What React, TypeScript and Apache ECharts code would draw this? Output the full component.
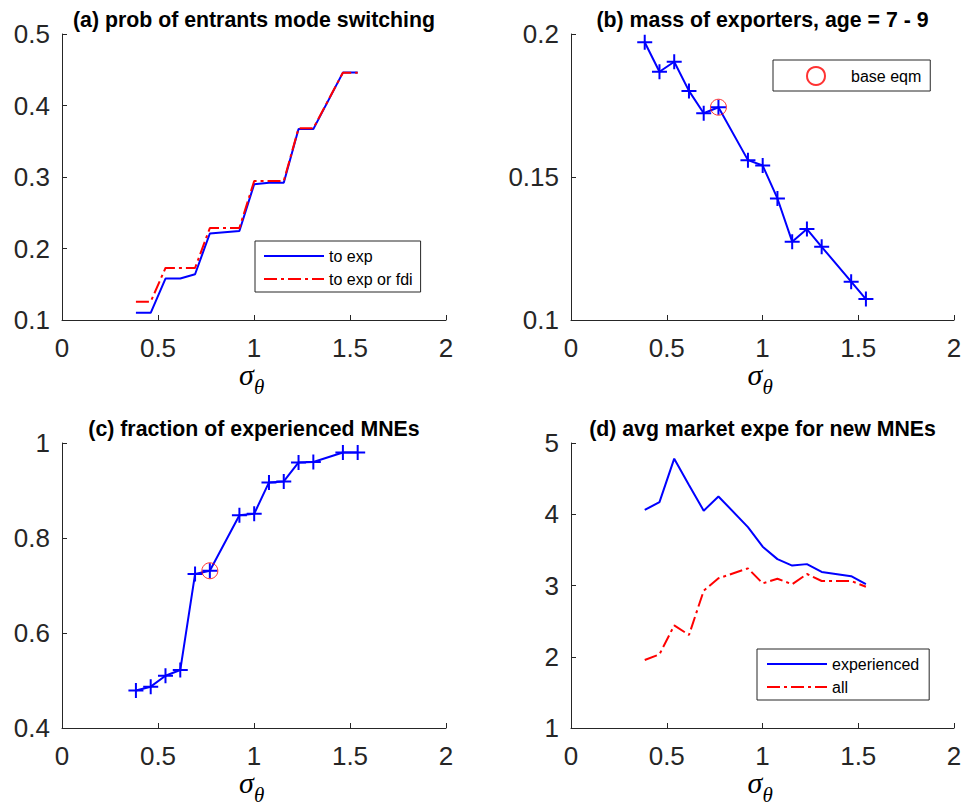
import React, { useEffect, useRef } from "react";
import * as echarts from "echarts";

// sigma_theta grid
const sigma = [0.385, 0.462, 0.539, 0.616, 0.693, 0.77, 0.924, 1.001, 1.078, 1.155, 1.232, 1.309, 1.463, 1.54];
// (a) prob of entrants mode switching
const toExp = [0.110, 0.110, 0.158, 0.158, 0.164, 0.221, 0.2245, 0.290, 0.292, 0.292, 0.367, 0.367, 0.446, 0.446];
const toExpOrFdi = [0.1256, 0.1256, 0.1727, 0.1727, 0.1727, 0.2287, 0.2287, 0.2944, 0.2944, 0.2944, 0.3681, 0.3681, 0.4459, 0.4459];
// (b) mass of exporters, age 7-9
const massExporters = [0.1971, 0.1868, 0.1903, 0.1801, 0.1723, 0.1744, 0.1559, 0.154, 0.1425, 0.1274, 0.1318, 0.1256, 0.1134, 0.1073];
// (c) fraction of experienced MNEs
const fracExperienced = [0.479, 0.487, 0.51, 0.522, 0.724, 0.731, 0.848, 0.851, 0.917, 0.919, 0.959, 0.96, 0.98, 0.98];
// (d) avg market expe for new MNEs
const expeExperienced = [4.06, 4.17, 4.78, 4.41, 4.05, 4.25, 3.82, 3.545, 3.37, 3.28, 3.3, 3.19, 3.13, 3.02];
const expeAll = [1.954, 2.034, 2.441, 2.305, 2.927, 3.101, 3.241, 3.03, 3.095, 3.017, 3.161, 3.063, 3.063, 2.983];
// base equilibrium index
const baseIndex = 5;

const xTicks = { min: 0, max: 2, interval: 0.5 };
const yRanges = [
  { min: 0.1, max: 0.5, interval: 0.1 },
  { min: 0.1, max: 0.2, interval: 0.05 },
  { min: 0.4, max: 1, interval: 0.2 },
  { min: 1, max: 5, interval: 1 },
];
const titles = [
  "(a) prob of entrants mode switching",
  "(b) mass of exporters, age = 7 - 9",
  "(c) fraction of experienced MNEs",
  "(d) avg market expe for new MNEs",
];

const AXIS = "#262626";
const BLUE = "#0000FF";
const RED = "#FF0000";
const SANS = "'Liberation Sans', Arial, sans-serif";
const SERIF = "'Liberation Serif', 'Times New Roman', serif";

const grids = [
  { left: 62, top: 34, width: 384, height: 286 },
  { left: 571, top: 34, width: 383, height: 286 },
  { left: 62, top: 443, width: 384, height: 285 },
  { left: 571, top: 443, width: 383, height: 285 },
];

const PLUS = "path://M6.5,0 H8.5 V6.5 H15 V8.5 H8.5 V15 H6.5 V8.5 H0 V6.5 H6.5 Z";
const DASHDOT = [13, 4, 3, 4];

const pairs = (ys: number[]) => sigma.map((x, i) => [x, ys[i]]);

export default function App() {
  const ref = useRef<HTMLDivElement>(null);
  useEffect(() => {
    if (!ref.current) return;
    const chart = echarts.init(ref.current, undefined, { renderer: "svg" });

    const xAxis = grids.map((_, i) => ({
      type: "value",
      gridIndex: i,
      ...xTicks,
      axisLine: { show: true, onZero: false, lineStyle: { color: AXIS, width: 1 } },
      axisTick: { show: true, inside: true, length: 5, lineStyle: { color: AXIS, width: 1 } },
      splitLine: { show: false },
      axisLabel: { fontSize: 26, color: AXIS, fontFamily: SANS, margin: 15 },
    }));
    const yAxis = grids.map((_, i) => ({
      type: "value",
      gridIndex: i,
      ...yRanges[i],
      axisLine: { show: true, onZero: false, lineStyle: { color: AXIS, width: 1 } },
      axisTick: { show: true, inside: true, length: 5, lineStyle: { color: AXIS, width: 1 } },
      splitLine: { show: false },
      axisLabel: { fontSize: 26, color: AXIS, fontFamily: SANS, margin: 12 },
    }));

    const baseStyle = {
      type: "scatter",
      name: "base eqm",
      symbol: "circle",
      symbolSize: 16,
      itemStyle: { color: "rgba(0,0,0,0)", borderColor: RED, borderWidth: 1 },
      z: 5,
    };

    const series: any[] = [
      {
        type: "line", name: "to exp", xAxisIndex: 0, yAxisIndex: 0,
        data: pairs(toExp), showSymbol: false, symbol: "none",
        lineStyle: { color: BLUE, width: 2 }, itemStyle: { color: BLUE },
      },
      {
        type: "line", name: "to exp or fdi", xAxisIndex: 0, yAxisIndex: 0,
        data: pairs(toExpOrFdi), showSymbol: false, symbol: "none",
        lineStyle: { color: RED, width: 2, type: DASHDOT }, itemStyle: { color: RED },
      },
      {
        type: "line", name: "mass", xAxisIndex: 1, yAxisIndex: 1,
        data: pairs(massExporters), symbol: PLUS, symbolSize: 15, showAllSymbol: true,
        lineStyle: { color: BLUE, width: 2 }, itemStyle: { color: BLUE },
      },
      { ...baseStyle, xAxisIndex: 1, yAxisIndex: 1, data: [[sigma[baseIndex], massExporters[baseIndex]]] },
      {
        type: "line", name: "frac", xAxisIndex: 2, yAxisIndex: 2,
        data: pairs(fracExperienced), symbol: PLUS, symbolSize: 15, showAllSymbol: true,
        lineStyle: { color: BLUE, width: 2 }, itemStyle: { color: BLUE },
      },
      { ...baseStyle, xAxisIndex: 2, yAxisIndex: 2, data: [[sigma[baseIndex], fracExperienced[baseIndex]]] },
      {
        type: "line", name: "experienced", xAxisIndex: 3, yAxisIndex: 3,
        data: pairs(expeExperienced), showSymbol: false, symbol: "none",
        lineStyle: { color: BLUE, width: 2 }, itemStyle: { color: BLUE },
      },
      {
        type: "line", name: "all", xAxisIndex: 3, yAxisIndex: 3,
        data: pairs(expeAll), showSymbol: false, symbol: "none",
        lineStyle: { color: RED, width: 2, type: DASHDOT }, itemStyle: { color: RED },
      },
    ];

    const legendCommon = {
      orient: "vertical",
      backgroundColor: "#fff",
      borderColor: AXIS,
      borderWidth: 1,
      borderRadius: 0,
      itemWidth: 60,
      itemHeight: 16,
      itemGap: 7,
      selectedMode: false,
      textStyle: { fontSize: 16, color: "#000", fontFamily: SANS, lineHeight: 16 },
    };
    const legend = [
      {
        ...legendCommon, left: 255, top: 241, padding: [7, 8, 5, 8],
        itemStyle: { opacity: 0 },
        data: ["to exp", "to exp or fdi"],
      },
      {
        ...legendCommon, left: 773, top: 60, padding: [6, 9, 5, 33], itemHeight: 18,
        data: ["base eqm"],
      },
      {
        ...legendCommon, left: 757, top: 649, padding: [7, 10, 5, 9],
        itemStyle: { opacity: 0 },
        data: ["experienced", "all"],
      },
    ];

    const graphic: any[] = [];
    grids.forEach((g, i) => {
      const cx = g.left + g.width / 2;
      graphic.push({
        type: "text",
        x: cx,
        y: g.top - 14,
        style: {
          text: titles[i],
          font: `bold 21.3px ${SANS}`,
          fill: "#000",
          textAlign: "center",
          textVerticalAlign: "middle",
        },
      });
      const base = g.top + g.height;
      graphic.push({
        type: "text",
        x: cx - 15,
        y: base + 54,
        style: {
          text: "σ",
          font: `italic 30px ${SERIF}`,
          fill: "#000",
          textAlign: "left",
          textVerticalAlign: "middle",
        },
      });
      graphic.push({
        type: "text",
        x: cx,
        y: base + 67,
        style: {
          text: "θ",
          font: `italic 21px ${SERIF}`,
          fill: "#000",
          textAlign: "left",
          textVerticalAlign: "middle",
        },
      });
    });

    chart.setOption({
      animation: false,
      backgroundColor: "#fff",
      grid: grids.map((g) => ({ ...g, containLabel: false })),
      xAxis,
      yAxis,
      series,
      legend,
      graphic,
    });
    return () => chart.dispose();
  }, []);

  return (
    <div
      ref={ref}
      style={{ position: "absolute", left: 0, top: 0, width: 967, height: 812, background: "#fff" }}
    />
  );
}
